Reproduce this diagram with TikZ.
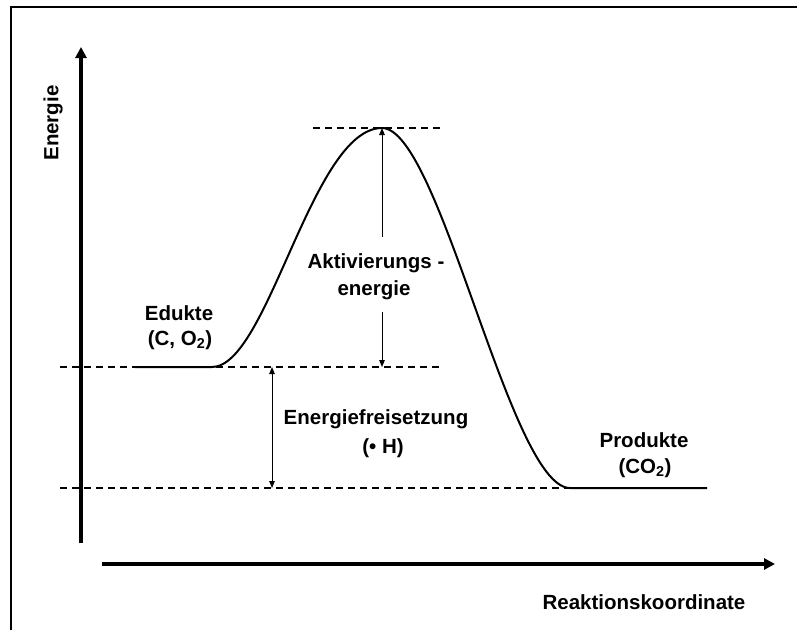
\documentclass[tikz,border=0pt]{standalone}
\usepackage{fontspec}
\setmainfont{Liberation Sans}
\usetikzlibrary{arrows.meta}
\begin{document}
\begin{tikzpicture}[x=1pt,y=-1pt,
 lbl/.style={font=\fontsize{20.5}{24}\selectfont\bfseries, inner sep=0pt},
 axis/.style={line width=3.5pt,-{Triangle[length=11pt,width=11pt]}},
 guide/.style={dash pattern=on 7pt off 5pt, line width=1.3pt},
 dimarrow/.style={line width=1pt,-{Triangle[length=7pt,width=5.5pt]}},
 dimboth/.style={line width=1pt,{Triangle[length=7pt,width=5.5pt]}-{Triangle[length=7pt,width=5.5pt]}},
 energycurve/.style={line width=2pt}]
\useasboundingbox (0,0) rectangle (797,629);
% frame (only top and left edges visible)
\draw[line width=1.5pt] (11,640) -- (11,7) -- (810,7);
% axes
\coordinate (yb) at (81,543); \coordinate (yt) at (81,47);
\coordinate (xl) at (102,564); \coordinate (xr) at (775,564);
\draw[axis] (yb) -- (yt);
\draw[axis] (xl) -- (xr);
% guide lines
\coordinate (gpl) at (313,128); \coordinate (gpr) at (442,128);
\coordinate (gel) at (60,367); \coordinate (ger) at (443,367);
\coordinate (gll) at (60,488); \coordinate (glr) at (705,488);
\draw[guide] (gpl) -- (gpr);
\draw[guide] (gel) -- (ger);
\draw[guide] (gll) -- (glr);
% energy curve
\coordinate (c0) at (135,367); \coordinate (c1) at (212,367);
\coordinate (peak) at (382,128);
\coordinate (c2) at (570,488); \coordinate (c3) at (707,488);
\draw[energycurve] (c0) -- (c1) .. controls (268,367) and (312,128) .. (peak)
  .. controls (440,128) and (510,488) .. (c2) -- (c3);
% labels
\node[lbl, rotate=90] (en) at (53,123) {Energie};
\node[lbl] (rk) at (644,602) {Reaktionskoordinate};
\node[lbl] (ed1) at (179,313) {Edukte};
\node[lbl] (ed2) at (180,340) {(C, O\textsubscript{2})};
\node[lbl] (ak1) at (376,263) {Aktivierungs -};
\node[lbl] (ak2) at (374,290) {energie};
\node[lbl] (ef1) at (376,419) {Energiefreisetzung};
\node[lbl] (ef2) at (383,448) {(• H)};
\node[lbl] (pr1) at (644,440) {Produkte};
\node[lbl] (pr2) at (645,468) {(CO\textsubscript{2})};
% activation energy arrow (split around text)
\coordinate (aa1) at (382,237); \coordinate (aa2) at (382,312);
\coordinate (abot) at (382,367);
\draw[dimarrow] (aa1) -- (peak);
\draw[dimarrow] (aa2) -- (abot);
% energy release arrow
\coordinate (rt) at (272,367); \coordinate (rb) at (272,488);
\draw[dimboth] (rt) -- (rb);
\end{tikzpicture}
\end{document}
